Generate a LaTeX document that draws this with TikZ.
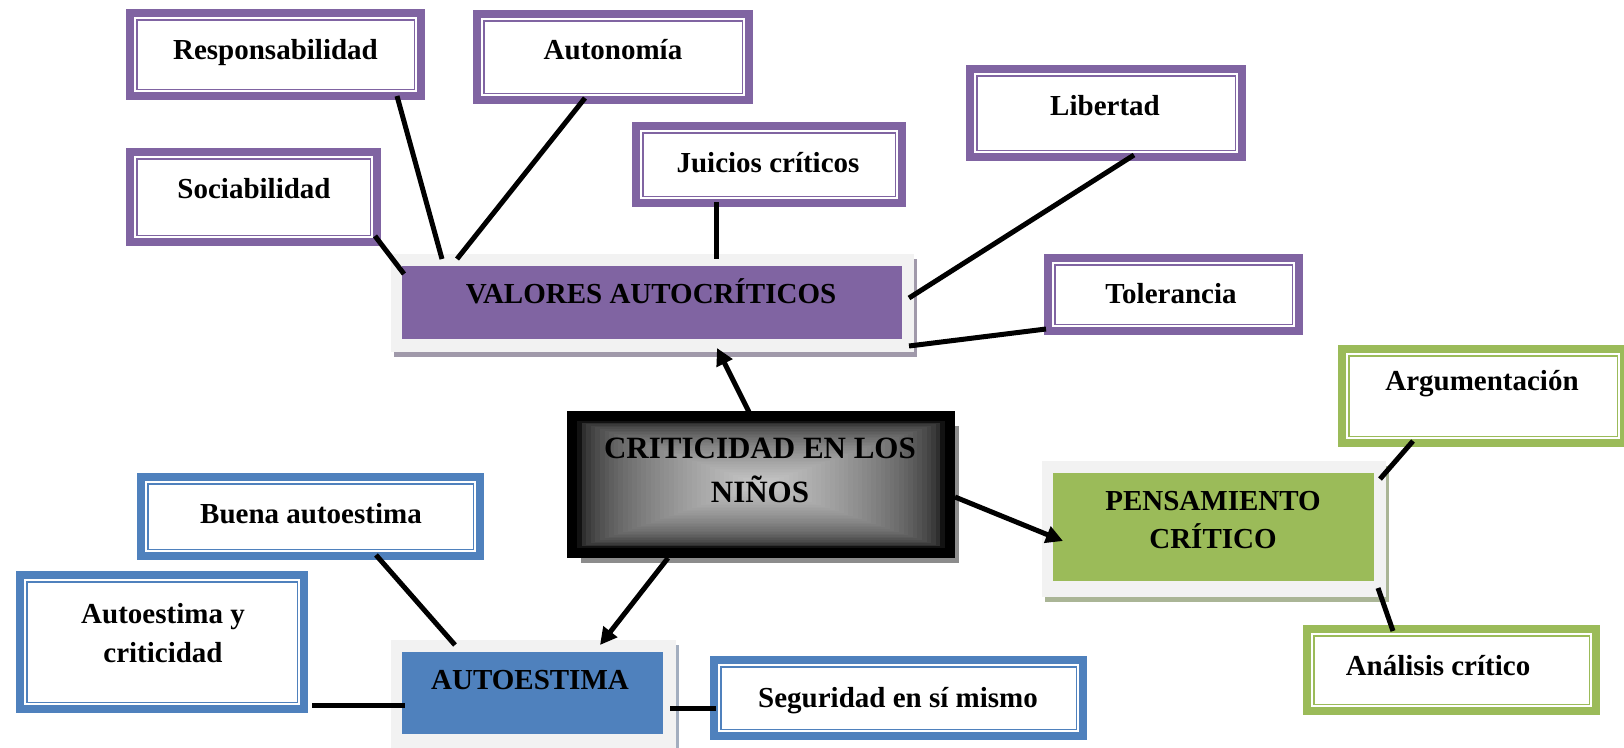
\documentclass[tikz,border=0pt]{standalone}
\usepackage{fontspec}
\setmainfont{Liberation Serif}
\usetikzlibrary{calc,arrows.meta,shadows}
\definecolor{vio}{HTML}{8064A2}
\definecolor{grn}{HTML}{9BBB59}
\definecolor{blu}{HTML}{4F81BD}
\definecolor{frm}{HTML}{F2F2F2}
\definecolor{vioshd}{HTML}{A099AA}
\definecolor{grnshd}{HTML}{AAB596}
\definecolor{blushd}{HTML}{A3AEBF}
\definecolor{crshd}{HTML}{8C8C8C}
\tikzset{
  leaf/.style={draw=#1, line width=8pt, fill=white, inner sep=0pt, outer sep=0pt,
    path picture={\draw[#1, line width=1.5pt]
      ([shift={(6.75pt,6.75pt)}]path picture bounding box.south west) rectangle
      ([shift={(-6.75pt,-6.75pt)}]path picture bounding box.north east);}},
  frame/.style={fill=frm, inner sep=0pt, outer sep=0pt,
    drop shadow={shadow xshift=3pt, shadow yshift=-5pt, fill=#1, opacity=1}},
  core/.style={fill=#1, inner sep=0pt, outer sep=0pt},
  txt/.style={font=\fontsize{29}{38}\selectfont\bfseries, inner sep=0pt, anchor=base, align=center},
  conn/.style={line width=5pt},
  arr/.style={line width=5pt, -{Triangle[length=17pt,width=17pt]}}
}
\begin{document}
\begin{tikzpicture}[x=1pt,y=-1pt]
\fill[white] (0,0) rectangle (1624,747);
\useasboundingbox (0,0) rectangle (1624,747);

% leaf boxes
\node[leaf=vio, minimum width=291pt, minimum height=83pt] (resp) at (275.5,54.5) {};
\node[leaf=vio, minimum width=272pt, minimum height=86pt] (auto) at (613,57) {};
\node[leaf=vio, minimum width=247pt, minimum height=90pt] (soci) at (253.5,197) {};
\node[leaf=vio, minimum width=266pt, minimum height=77pt] (juic) at (769,164.5) {};
\node[leaf=vio, minimum width=272pt, minimum height=88pt] (libe) at (1106,113) {};
\node[leaf=vio, minimum width=251pt, minimum height=73pt] (tole) at (1173.5,294.5) {};
\node[leaf=grn, minimum width=282pt, minimum height=94pt] (argu) at (1483,396) {};
\node[leaf=grn, minimum width=289pt, minimum height=82pt] (anal) at (1451.5,670) {};
\node[leaf=blu, minimum width=339pt, minimum height=79pt] (buen) at (310.5,516.5) {};
\node[leaf=blu, minimum width=284pt, minimum height=134pt] (aycr) at (162,642) {};
\node[leaf=blu, minimum width=369pt, minimum height=76pt] (segu) at (898.5,698) {};

% title boxes
\node[frame=vioshd, minimum width=523pt, minimum height=98pt] (valf) at (652.5,303) {};
\node[core=vio, minimum width=500pt, minimum height=73pt] (val) at (652,302.5) {};
\node[frame=grnshd, minimum width=344pt, minimum height=136pt] (penf) at (1214,529) {};
\node[core=grn, minimum width=321pt, minimum height=108pt] (pen) at (1213.5,527) {};
\node[frame=blushd, minimum width=285pt, minimum height=110pt] (autf) at (533.5,695) {};
\node[core=blu, minimum width=261pt, minimum height=82pt] (aut) at (532.5,693) {};

% central box
\node[draw=black, fill=black, line width=10pt, inner sep=0pt, outer sep=0pt,
      minimum width=378pt, minimum height=137pt,
      drop shadow={shadow xshift=9pt, shadow yshift=-10pt, fill=crshd, opacity=1}] (crit) at (761,484.5) {};
\foreach \i in {0,...,39}{
  \pgfmathsetmacro\s{1-\i/40}
  \pgfmathsetmacro\k{93-71*sqrt(\i/39)}
  \fill[black!\k] ($(crit.center)+({-184*\s},{-63.5*\s})$) rectangle ($(crit.center)+({184*\s},{63.5*\s})$);
}

% connectors
\draw[conn] ($(soci.center)+(121.5,39)$) -- ($(val.center)+(-248,-28.5)$);
\draw[conn] ($(resp.center)+(121.5,41.5)$) -- ($(val.center)+(-210,-43.5)$);
\draw[conn] ($(auto.center)+(-28,41)$) -- ($(val.center)+(-195,-43.5)$);
\draw[conn] ($(juic.center)+(-53,37.5)$) -- ($(val.center)+(64,-43.5)$);
\draw[conn] ($(libe.center)+(28,42)$) -- ($(val.center)+(257,-4.5)$);
\draw[conn] ($(tole.center)+(-127.5,34.5)$) -- ($(val.center)+(257,43.5)$);
\draw[arr] ($(crit.center)+(-12,-72.5)$) -- ($(val.center)+(65,45.5)$);
\draw[arr] ($(crit.center)+(194,12.5)$) -- ($(pen.center)+(-150.5,14)$);
\draw[arr] ($(crit.center)+(-93,73.5)$) -- ($(aut.center)+(67.5,-48)$);
\draw[conn] ($(buen.center)+(65.5,38.5)$) -- ($(aut.center)+(-77.5,-48)$);
\draw[conn] ($(aycr.center)+(150,63)$) -- ($(aut.center)+(-127.5,12)$);
\draw[conn] ($(aut.center)+(137.5,15)$) -- ($(segu.center)+(-182.5,10)$);
\draw[conn] ($(argu.center)+(-70,45)$) -- ($(pen.center)+(166.5,-48)$);
\draw[conn] ($(pen.center)+(164.5,61)$) -- ($(anal.center)+(-58.5,-39)$);

% texts
\node[txt] (resp-t) at (275.5,59) {Responsabilidad};
\node[txt] (auto-t) at (613,59) {Autonomía};
\node[txt] (soci-t) at (254,198) {Sociabilidad};
\node[txt] (juic-t) at (768,172) {Juicios críticos};
\node[txt] (libe-t) at (1105,115) {Libertad};
\node[txt] (tole-t) at (1171,303) {Tolerancia};
\node[txt] (argu-t) at (1482,390) {Argumentación};
\node[txt] (anal-t) at (1438,675) {Análisis crítico};
\node[txt] (buen-t) at (311,523) {Buena autoestima};
\node[txt, font=\fontsize{29}{39}\selectfont\bfseries] (aycr-t) at (163,662) {Autoestima y\\criticidad};
\node[txt] (segu-t) at (898,707) {Seguridad en sí mismo};
\node[txt] (val-t) at (651,303) {VALORES AUTOCRÍTICOS};
\node[txt] (pen-t) at (1213,548) {PENSAMIENTO\\CRÍTICO};
\node[txt] (aut-t) at (530,689) {AUTOESTIMA};
\node[txt, font=\fontsize{31}{44}\selectfont\bfseries] (crit-t) at (760,502) {CRITICIDAD EN LOS\\NIÑOS};
\end{tikzpicture}
\end{document}
